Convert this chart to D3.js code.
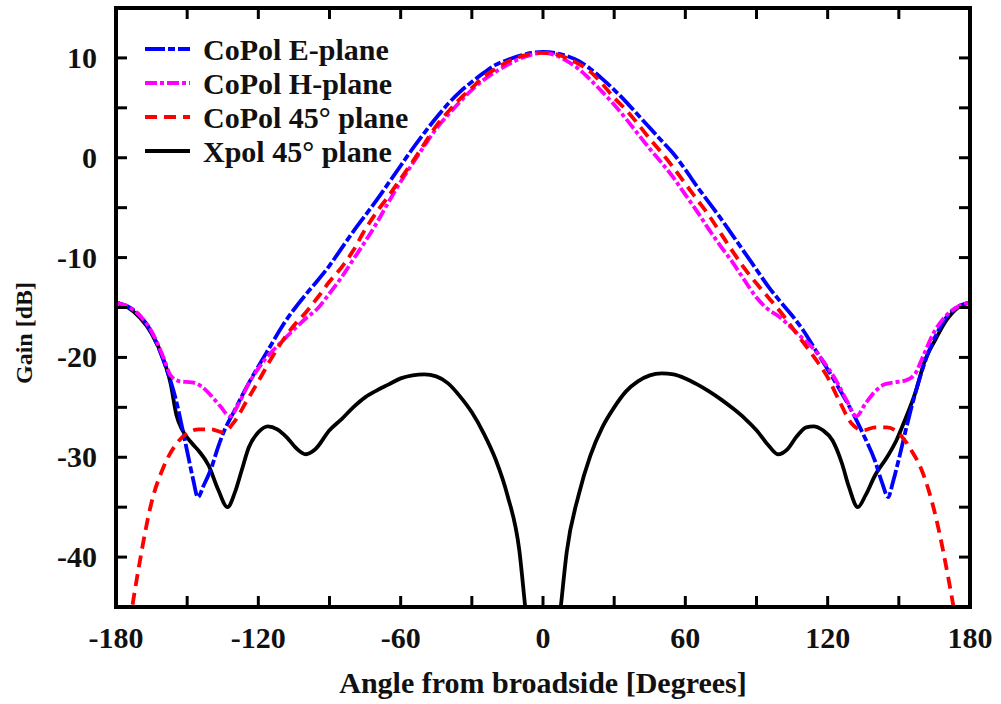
<!DOCTYPE html>
<html>
<head>
<meta charset="utf-8">
<script src="https://cdn.jsdelivr.net/npm/d3@7"></script>
<style>
  body { margin: 0; background: #fff; }
  text { font-family: "Liberation Serif", "Times New Roman", serif; font-weight: bold; fill: #111; }
</style>
</head>
<body>
<div id="chart"></div>
<script>
// values
var ePlaneAngle = [-180,-175,-170,-165,-160,-155,-150,-147.5,-145.5,-143,-140,-137,-135,-130,-125,-120,-115,-110,-105,-100,-95,-90,-85,-80,-75,-70,-65,-60,-55,-50,-45,-40,-35,-30,-25,-20,-15,-10,-5,0,5,10,15,20,25,30,35,40,45,50,55,60,65,70,75,80,85,90,95,100,105,110,115,120,125,130,135,140,143,145.5,147.5,150,153,155,158,162,166,170,175,180];
var ePlaneGain = [-14.5,-14.9,-15.8,-17.5,-20.3,-24.0,-29.4,-32.2,-34.0,-32.8,-31.2,-29.0,-27.7,-25.3,-23.0,-20.9,-18.9,-16.9,-15.2,-13.7,-12.3,-10.8,-9.1,-7.4,-5.8,-4.2,-2.5,-0.8,0.9,2.5,4.0,5.4,6.6,7.6,8.5,9.3,9.8,10.2,10.5,10.6,10.5,10.2,9.7,8.9,7.9,6.8,5.6,4.3,3.0,1.7,0.4,-1.2,-2.9,-4.5,-6.1,-7.8,-9.5,-11.2,-12.9,-14.4,-15.8,-17.4,-19.3,-21.2,-23.2,-25.3,-27.7,-30.4,-32.6,-34.0,-32.5,-30.2,-27.2,-25.3,-22.7,-19.8,-17.6,-16.0,-14.9,-14.5];

var hPlaneAngle = [-180,-175,-170,-165,-160,-157,-153,-148,-144,-140,-136,-132,-128,-124,-120,-115,-110,-105,-100,-95,-90,-85,-80,-75,-70,-65,-60,-55,-50,-45,-40,-35,-30,-25,-20,-15,-10,-5,0,5,10,15,20,25,30,35,40,45,50,55,60,65,70,75,80,85,90,95,100,105,110,115,120,124,128,132,136,140,144,148,153,157,160,165,170,175,180];
var hPlaneGain = [-14.5,-14.9,-15.8,-17.4,-20.0,-21.8,-22.4,-22.5,-22.9,-23.8,-24.9,-25.9,-24.5,-22.6,-21.1,-19.6,-18.4,-17.2,-16.1,-15.1,-13.6,-12.0,-10.2,-8.4,-6.5,-4.4,-2.4,-0.6,1.2,2.9,4.3,5.6,6.8,7.8,8.6,9.3,9.9,10.3,10.5,10.3,9.7,8.9,7.8,6.6,5.3,3.9,2.4,0.9,-0.5,-2.0,-3.7,-5.4,-7.2,-8.9,-10.5,-12.3,-14.0,-15.2,-16.0,-17.1,-18.2,-19.4,-21.0,-22.5,-24.3,-25.9,-24.6,-23.4,-22.7,-22.5,-22.3,-21.6,-20.0,-17.4,-15.8,-14.9,-14.5];

var diagAngle = [-180,-175,-170,-165,-160,-155,-150,-145,-140,-135,-130,-125,-120,-115,-110,-105,-100,-95,-90,-85,-80,-75,-70,-65,-60,-55,-50,-45,-40,-35,-30,-25,-20,-15,-10,-5,0,5,10,15,20,25,30,35,40,45,50,55,60,65,70,75,80,85,90,95,100,105,110,115,120,125,130,135,140,145,150,155,160,165,170,175,180];
var diagGain = [-58,-48,-40.5,-34.5,-31.0,-28.8,-27.6,-27.2,-27.2,-27.5,-26.4,-24.4,-22.4,-20.3,-18.4,-16.8,-15.5,-14.0,-12.4,-11.0,-9.3,-7.2,-5.4,-3.8,-2.1,-0.4,1.4,3.2,4.6,5.9,7.0,8.1,8.9,9.6,10.1,10.4,10.5,10.4,10.0,9.4,8.6,7.4,6.0,4.8,3.4,1.9,0.5,-1.0,-2.6,-4.2,-5.8,-7.6,-9.4,-11.1,-12.6,-14.0,-15.4,-17.0,-18.6,-20.2,-22.0,-24.4,-26.6,-27.3,-27.0,-27.0,-27.6,-29.2,-31.5,-35.4,-41.0,-48,-58];

var xpolAngle = [-180,-175,-170,-165,-160,-157,-154.5,-152,-148,-145,-141,-137,-133,-130,-127,-124,-120,-116,-112,-108,-104,-100,-96,-90,-85,-80,-75,-70,-65,-60,-55,-50,-45,-40,-35,-30,-25,-20,-15,-10,-7.5,0,7.5,10,15,20,25,30,35,40,45,50,55,60,65,70,75,80,85,90,95,99,103,107,111,114,118,122,126,129,132.7,136,140,145,149,152,157,161,165,170,175,180];
var xpolGain = [-14.5,-15.0,-16.0,-17.6,-20.2,-22.6,-25.8,-27.3,-28.6,-29.4,-30.8,-33.2,-35.0,-33.6,-31.3,-29.0,-27.5,-26.9,-27.2,-28.0,-29.1,-29.7,-29.2,-27.3,-26.2,-25.0,-24.0,-23.3,-22.7,-22.1,-21.8,-21.7,-21.9,-22.6,-23.9,-25.5,-27.6,-30.2,-33.8,-39.3,-45,-62,-45,-39.5,-33.8,-29.8,-27.0,-25.0,-23.4,-22.4,-21.8,-21.6,-21.7,-22.1,-22.7,-23.4,-24.2,-25.1,-26.1,-27.3,-28.8,-29.7,-29.2,-27.9,-27.0,-26.9,-27.3,-28.3,-30.6,-33.0,-35.0,-33.8,-31.8,-30.0,-28.3,-26.6,-23.5,-20.3,-18.4,-16.3,-15.0,-14.5];

var seriesNames = ["CoPol E-plane", "CoPol H-plane", "CoPol 45\u00b0 plane", "Xpol 45\u00b0 plane"];
var seriesColors = ["#0000ff", "#ff00ff", "#ff0000", "#000000"];
var seriesDash = ["20,3,7,3", "12,3,4,3", "12,7", null];

var xTickLabels = [-180, -120, -60, 0, 60, 120, 180];
var yTickLabels = [-40, -30, -20, -10, 0, 10];

var width = 1001, height = 704;
var plotLeft = 116, plotRight = 970, plotTop = 8, plotBottom = 607;

var svg = d3.select('#chart').append('svg')
    .attr('width', width)
    .attr('height', height);

var x = d3.scaleLinear().domain([-180, 180]).range([plotLeft, plotRight]);
var y = d3.scaleLinear().domain([-45, 15]).range([plotBottom, plotTop]);

svg.append('clipPath').attr('id', 'plotclip')
  .append('rect')
    .attr('x', plotLeft).attr('y', plotTop)
    .attr('width', plotRight - plotLeft).attr('height', plotBottom - plotTop);

var series = [
  {angle: ePlaneAngle, gain: ePlaneGain},
  {angle: hPlaneAngle, gain: hPlaneGain},
  {angle: diagAngle, gain: diagGain},
  {angle: xpolAngle, gain: xpolGain}
];

var line = d3.line()
    .x(d => x(d[0]))
    .y(d => y(d[1]))
    .curve(d3.curveMonotoneX);

var plot = svg.append('g').attr('clip-path', 'url(#plotclip)');

// draw black first, coloured ones on top
[3, 0, 1, 2].forEach(function(i) {
  var pts = series[i].angle.map((a, k) => [a, series[i].gain[k]]);
  plot.append('path')
    .attr('d', line(pts))
    .attr('fill', 'none')
    .attr('stroke', seriesColors[i])
    .attr('stroke-width', 3.8)
    .attr('stroke-dasharray', seriesDash[i]);
});

// ticks on all four sides, pointing inward
var tickLen = 11;
var ticks = svg.append('g').attr('stroke', '#000').attr('stroke-width', 3);
d3.range(-150, 180, 30).forEach(function(v) {
  ticks.append('line').attr('x1', x(v)).attr('x2', x(v)).attr('y1', plotBottom).attr('y2', plotBottom - tickLen);
  ticks.append('line').attr('x1', x(v)).attr('x2', x(v)).attr('y1', plotTop).attr('y2', plotTop + tickLen);
});
d3.range(-40, 15, 5).forEach(function(v) {
  ticks.append('line').attr('x1', plotLeft).attr('x2', plotLeft + tickLen).attr('y1', y(v)).attr('y2', y(v));
  ticks.append('line').attr('x1', plotRight).attr('x2', plotRight - tickLen).attr('y1', y(v)).attr('y2', y(v));
});

svg.append('rect')
    .attr('x', plotLeft).attr('y', plotTop)
    .attr('width', plotRight - plotLeft).attr('height', plotBottom - plotTop)
    .attr('fill', 'none')
    .attr('stroke', '#000')
    .attr('stroke-width', 4);

svg.append('g').selectAll('text')
  .data(xTickLabels)
  .join('text')
    .attr('x', d => x(d))
    .attr('y', 648)
    .attr('text-anchor', 'middle')
    .style('font-size', '30px')
    .text(d => d);

svg.append('g').selectAll('text')
  .data(yTickLabels)
  .join('text')
    .attr('x', 97)
    .attr('y', d => y(d) + 10)
    .attr('text-anchor', 'end')
    .style('font-size', '30px')
    .text(d => d);

svg.append('text')
    .attr('x', (plotLeft + plotRight) / 2)
    .attr('y', 693)
    .attr('text-anchor', 'middle')
    .style('font-size', '30px')
    .text('Angle from broadside [Degrees]');

svg.append('text')
    .attr('transform', 'translate(32,333)rotate(-90)')
    .attr('text-anchor', 'middle')
    .style('font-size', '24px')
    .text('Gain [dB]');

var legend = svg.append('g');
seriesNames.forEach(function(name, i) {
  var ly = 49 + i * 34;
  legend.append('line')
    .attr('x1', 145).attr('x2', 190)
    .attr('y1', ly).attr('y2', ly)
    .attr('stroke', seriesColors[i])
    .attr('stroke-width', 3.8)
    .attr('stroke-dasharray', seriesDash[i]);
  legend.append('text')
    .attr('x', 203)
    .attr('y', ly + 11)
    .style('font-size', '30px')
    .text(name);
});
</script>
</body>
</html>
